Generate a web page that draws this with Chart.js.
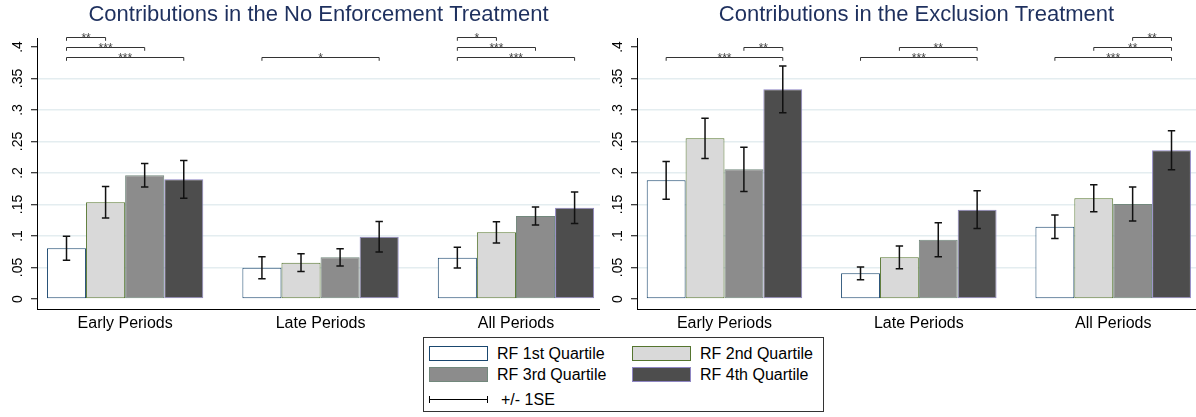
<!DOCTYPE html>
<html>
<head>
<meta charset="utf-8">
<script src="https://cdn.jsdelivr.net/npm/chart.js@4.4.1/dist/chart.umd.min.js"></script>
<style>
  body { margin: 0; background: #fff; font-family: "Liberation Sans", Arial, sans-serif; }
  #leftChart { position: absolute; left: 0; top: 0; }
  #rightChart { position: absolute; left: 600px; top: 0; }
  #legend { position: absolute; left: 423px; top: 337px; width: 401px; height: 75px;
            border: 1px solid #333; box-sizing: border-box; }
  .item { position: absolute; height: 15px; display: flex; align-items: center;
          font-size: 16px; color: #000; white-space: nowrap; }
  .sw { width: 59px; height: 15px; box-sizing: border-box; border: 1.5px solid; margin-right: 9px; }
  .se { position: relative; width: 59px; height: 7px; box-sizing: border-box;
        border-left: 1px solid #000; border-right: 1px solid #000; margin-right: 13px; }
  .se:after { content: ""; position: absolute; left: 0; right: 0; top: 3px; height: 1px; background: #000; }
</style>
</head>
<body>
<canvas id="leftChart" width="600" height="337"></canvas>
<canvas id="rightChart" width="596" height="337"></canvas>
<div id="legend"></div>
<script>
const periods = ["Early Periods", "Late Periods", "All Periods"];
const quartiles = ["RF 1st Quartile", "RF 2nd Quartile", "RF 3rd Quartile", "RF 4th Quartile"];
const yTicks = [0, 0.05, 0.1, 0.15, 0.2, 0.25, 0.3, 0.35, 0.4];
const yTickLabels = ["0", ".05", ".1", ".15", ".2", ".25", ".3", ".35", ".4"];

// rows = quartiles, columns = periods
const noEnfMean = [
  [0.0805, 0.0497, 0.0656],
  [0.1535, 0.0577, 0.1058],
  [0.1963, 0.0661, 0.1317],
  [0.1900, 0.0989, 0.1450]
];
const noEnfSE = [
  [0.019, 0.0175, 0.0164],
  [0.025, 0.014, 0.017],
  [0.0186, 0.0137, 0.0143],
  [0.030, 0.0243, 0.025]
];
const exclMean = [
  [0.1884, 0.0407, 0.1148],
  [0.2550, 0.0661, 0.1598],
  [0.2058, 0.0942, 0.1508],
  [0.3328, 0.1418, 0.2360]
];
const exclSE = [
  [0.030, 0.010, 0.0186],
  [0.032, 0.018, 0.0215],
  [0.035, 0.027, 0.027],
  [0.037, 0.030, 0.031]
];

// significance brackets: period, from quartile, to quartile, height, stars
const noEnfBrPeriod = [0, 0, 0, 1, 2, 2, 2];
const noEnfBrFrom   = [0, 0, 0, 0, 0, 0, 0];
const noEnfBrTo     = [1, 2, 3, 3, 1, 2, 3];
const noEnfBrY      = [0.416, 0.400, 0.384, 0.384, 0.416, 0.400, 0.384];
const noEnfBrStars  = ["**", "***", "***", "*", "*", "***", "***"];

const exclBrPeriod = [0, 0, 1, 1, 2, 2, 2];
const exclBrFrom   = [2, 0, 1, 0, 2, 1, 0];
const exclBrTo     = [3, 3, 3, 3, 3, 3, 3];
const exclBrY      = [0.400, 0.384, 0.400, 0.384, 0.416, 0.400, 0.384];
const exclBrStars  = ["**", "***", "**", "***", "**", "**", "***"];

const barFill = ["#ffffff", "#d9d9d9", "#8c8c8c", "#4d4d4d"];
const barLine = ["#1a476f", "#55752f", "#72887c", "#8f86c3"];

Chart.defaults.font.family = '"Liberation Sans", Arial, sans-serif';

function marksPlugin(se, brPeriod, brFrom, brTo, brY, brStars) {
  return {
    id: 'marks',
    afterDatasetsDraw(chart) {
      const ctx = chart.ctx;
      const y = chart.scales.y;
      ctx.save();
      // +/- 1 SE bars
      ctx.strokeStyle = '#111';
      ctx.lineWidth = 1.5;
      chart.data.datasets.forEach((ds, q) => {
        chart.getDatasetMeta(q).data.forEach((bar, p) => {
          const m = ds.data[p].y;
          const top = y.getPixelForValue(m + se[q][p]);
          const bot = y.getPixelForValue(m - se[q][p]);
          ctx.beginPath();
          ctx.moveTo(bar.x, top); ctx.lineTo(bar.x, bot);
          ctx.moveTo(bar.x - 3.7, top); ctx.lineTo(bar.x + 3.7, top);
          ctx.moveTo(bar.x - 3.7, bot); ctx.lineTo(bar.x + 3.7, bot);
          ctx.stroke();
        });
      });
      // brackets with stars
      ctx.strokeStyle = '#333';
      ctx.lineWidth = 1;
      ctx.fillStyle = '#444';
      ctx.font = '12px "Liberation Sans", Arial, sans-serif';
      ctx.textAlign = 'center';
      ctx.textBaseline = 'alphabetic';
      for (let i = 0; i < brPeriod.length; i++) {
        const x1 = chart.getDatasetMeta(brFrom[i]).data[brPeriod[i]].x;
        const x2 = chart.getDatasetMeta(brTo[i]).data[brPeriod[i]].x;
        const yp = Math.round(y.getPixelForValue(brY[i])) + 0.5;
        ctx.beginPath();
        ctx.moveTo(x1, yp + 3.3); ctx.lineTo(x1, yp);
        ctx.lineTo(x2, yp); ctx.lineTo(x2, yp + 3.3);
        ctx.stroke();
        ctx.fillText(brStars[i], (x1 + x2) / 2, yp + 4);
      }
      // y tick labels, turned to read upward like Stata
      ctx.fillStyle = '#000';
      ctx.font = '14px "Liberation Sans", Arial, sans-serif';
      ctx.textBaseline = 'middle';
      yTicks.forEach((v, i) => {
        ctx.save();
        ctx.translate(y.right - 19, y.getPixelForValue(v));
        ctx.rotate(-Math.PI / 2);
        ctx.fillText(yTickLabels[i], 0, 0);
        ctx.restore();
      });
      ctx.restore();
    }
  };
}

function makeChart(id, title, mean, se, xMin, xMax, br) {
  new Chart(document.getElementById(id), {
    type: 'bar',
    data: {
      datasets: quartiles.map((q, i) => ({
        label: q,
        data: mean[i].map((v, p) => ({ x: p, y: v })),
        backgroundColor: barFill[i],
        borderColor: barLine[i],
        borderWidth: 1,
        borderSkipped: false,
        categoryPercentage: 0.8,
        barPercentage: 1
      }))
    },
    options: {
      responsive: false,
      animation: false,
      layout: { padding: 0 },
      plugins: {
        legend: { display: false },
        tooltip: { enabled: false },
        title: {
          display: true, text: title, fullSize: false,
          color: '#1e305e', font: { size: 22, weight: 'normal' },
          padding: { top: 2, bottom: 9.6 }
        }
      },
      scales: {
        x: {
          type: 'linear', min: xMin, max: xMax, offset: false,
          afterBuildTicks: s => { s.ticks = periods.map((_, i) => ({ value: i })); },
          afterFit: s => { s.height = 28; },
          ticks: { callback: (v, i) => periods[i], font: { size: 16 }, color: '#000',
                   padding: -3, autoSkip: false, maxRotation: 0 },
          grid: { display: false },
          border: { display: true, color: '#000', width: 1 }
        },
        y: {
          min: -0.0159, max: 0.4143,
          afterBuildTicks: s => { s.ticks = yTicks.map(v => ({ value: v })); },
          afterFit: s => { s.width = 37; },
          ticks: { display: false },
          grid: {
            color: c => (c.tick && (c.tick.value === 0 || c.tick.value === 0.4)) ? 'rgba(0,0,0,0)' : '#e4edf0',
            lineWidth: 1.5, tickColor: '#000', tickLength: 6, tickWidth: 1
          },
          border: { display: true, color: '#000', width: 1 }
        }
      }
    },
    plugins: [marksPlugin(se, br[0], br[1], br[2], br[3], br[4])]
  });
}

makeChart('leftChart', 'Contributions in the No Enforcement Treatment', noEnfMean, noEnfSE, -0.451, 2.430,
  [noEnfBrPeriod, noEnfBrFrom, noEnfBrTo, noEnfBrY, noEnfBrStars]);
makeChart('rightChart', 'Contributions in the Exclusion Treatment', exclMean, exclSE, -0.450, 2.426,
  [exclBrPeriod, exclBrFrom, exclBrTo, exclBrY, exclBrStars]);

// legend
const legend = document.getElementById('legend');
const itemLeft = [5, 208];
const itemTop = [8, 29];
quartiles.forEach((q, i) => {
  const d = document.createElement('div');
  d.className = 'item';
  d.style.left = itemLeft[i % 2] + 'px';
  d.style.top = itemTop[Math.floor(i / 2)] + 'px';
  d.innerHTML = '<span class="sw" style="background:' + barFill[i] + ';border-color:' + barLine[i] + '"></span>' + q;
  legend.appendChild(d);
});
const seItem = document.createElement('div');
seItem.className = 'item';
seItem.style.left = '5px';
seItem.style.top = '54px';
seItem.innerHTML = '<span class="se"></span>+/- 1SE';
legend.appendChild(seItem);
</script>
</body>
</html>
